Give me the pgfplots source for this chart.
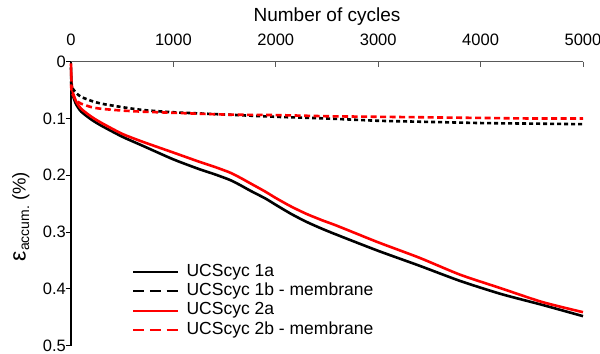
\documentclass[border=0pt]{standalone}
\usepackage{fontspec}
\setmainfont{Liberation Sans}
\usepackage{pgfplots}
\pgfplotsset{compat=1.18}
\definecolor{axgray}{HTML}{595959}
\definecolor{myred}{HTML}{FF0000}

\pgfplotstableread{
x y
0 0.010
5 0.040
20 0.060
50 0.075
100 0.088
200 0.102
300 0.113
500 0.132
700 0.148
1000 0.172
1250 0.189
1400 0.198
1550 0.208
1650 0.217
1750 0.227
1900 0.241
2000 0.252
2150 0.268
2300 0.282
2450 0.294
2600 0.305
3000 0.333
3400 0.359
3800 0.386
4200 0.409
4600 0.428
5000 0.448
}\seriesA

\pgfplotstableread{
x y
0 0.035
10 0.045
50 0.055
100 0.062
200 0.069
300 0.074
500 0.080
700 0.085
1000 0.089
1500 0.093
2000 0.097
2500 0.100
3000 0.104
3500 0.106
4000 0.108
4500 0.109
5000 0.110
}\seriesB

\pgfplotstableread{
x y
0 0.003
5 0.035
20 0.055
50 0.070
100 0.083
200 0.097
300 0.108
500 0.127
700 0.141
1000 0.160
1250 0.176
1400 0.185
1550 0.195
1650 0.204
1750 0.214
1900 0.229
2000 0.240
2150 0.255
2300 0.268
2450 0.279
2600 0.289
3000 0.318
3400 0.345
3800 0.375
4200 0.399
4600 0.423
5000 0.441
}\seriesC

\pgfplotstableread{
x y
0 0.040
10 0.055
50 0.068
100 0.074
200 0.080
300 0.083
500 0.086
700 0.088
1000 0.090
1500 0.093
2000 0.094
2500 0.096
3000 0.097
3500 0.098
4000 0.099
4500 0.100
5000 0.100
}\seriesD

\begin{document}
\begin{tikzpicture}
\path[use as bounding box] (-71bp,-8.3bp) rectangle (529bp,345.7bp);
\begin{axis}[
  at={(0,0)}, anchor=south west,
  scale only axis, width=512bp, height=284bp,
  xmin=0, xmax=5000, ymin=0, ymax=0.5,
  y dir=reverse,
  axis line style={draw=none},
  xtick={0,1000,2000,3000,4000,5000},
  xticklabels={0,1000,2000,3000,4000,5000},
  ytick={0,0.1,0.2,0.3,0.4,0.5},
  yticklabels={0,0.1,0.2,0.3,0.4,0.5},
  xtick pos=upper, xticklabel pos=upper, ytick pos=left,
  tick align=outside,
  major tick length=5bp,
  major x tick style={draw=axgray, line width=1bp, yshift=-5bp},
  major y tick style={draw=black, line width=1bp},
  tick label style={font=\fontsize{16.5bp}{16.5bp}\selectfont, inner sep=0pt},
  xticklabel style={yshift=10.7bp},
  /pgf/number format/assume math mode=true,
  xlabel={Number of cycles},
  xlabel style={font=\fontsize{19bp}{19bp}\selectfont, at={(axis description cs:0.5,1)}, anchor=base, yshift=40bp},
  ylabel={{\fontsize{23bp}{23bp}\selectfont ε}\raisebox{-3.5bp}{\fontsize{14bp}{14bp}\selectfont accum.}\fontsize{18.5bp}{18.5bp}\selectfont\ (\%)},
  ylabel style={at={(axis description cs:-0.098,0.455)}, anchor=center},
  legend cell align=left,
  legend style={at={(axis description cs:0.1197,0.286)}, anchor=north west, draw=none, fill=none,
    inner sep=0pt, outer sep=0pt, row sep=3.7bp, column sep=8bp,
    font=\fontsize{17.5bp}{17.5bp}\selectfont,
    nodes={inner sep=0pt, outer sep=0pt, text height=12bp, text depth=3.5bp}},
  legend image code/.code={\draw[#1] (0bp,0bp) -- (44.3bp,0bp);},
  clip=false,
]
\draw[axgray, line width=1.5bp] (axis cs:0,0) -- (axis cs:5000,0);
\draw[black, line width=1.5bp] (axis cs:0,0) -- (axis cs:0,0.5);
\addplot[black, line width=2.6bp, smooth, tension=0.4, forget plot] table {\seriesA};
\addplot[myred, line width=2.6bp, smooth, tension=0.4, forget plot] table {\seriesC};
\addplot[black, line width=2.6bp, smooth, tension=0.4, dash pattern=on 4bp off 3bp, forget plot] table {\seriesB};
\addplot[myred, line width=2.6bp, smooth, tension=0.4, dash pattern=on 6bp off 3.5bp, forget plot] table {\seriesD};
\addlegendimage{black, line width=2bp}
\addlegendentry{UCScyc 1a}
\addlegendimage{black, line width=2bp, dash pattern=on 11bp off 5.7bp}
\addlegendentry{UCScyc 1b - membrane}
\addlegendimage{myred, line width=2bp}
\addlegendentry{UCScyc 2a}
\addlegendimage{myred, line width=2bp, dash pattern=on 11bp off 5.7bp}
\addlegendentry{UCScyc 2b - membrane}
\end{axis}
\end{tikzpicture}
\end{document}
